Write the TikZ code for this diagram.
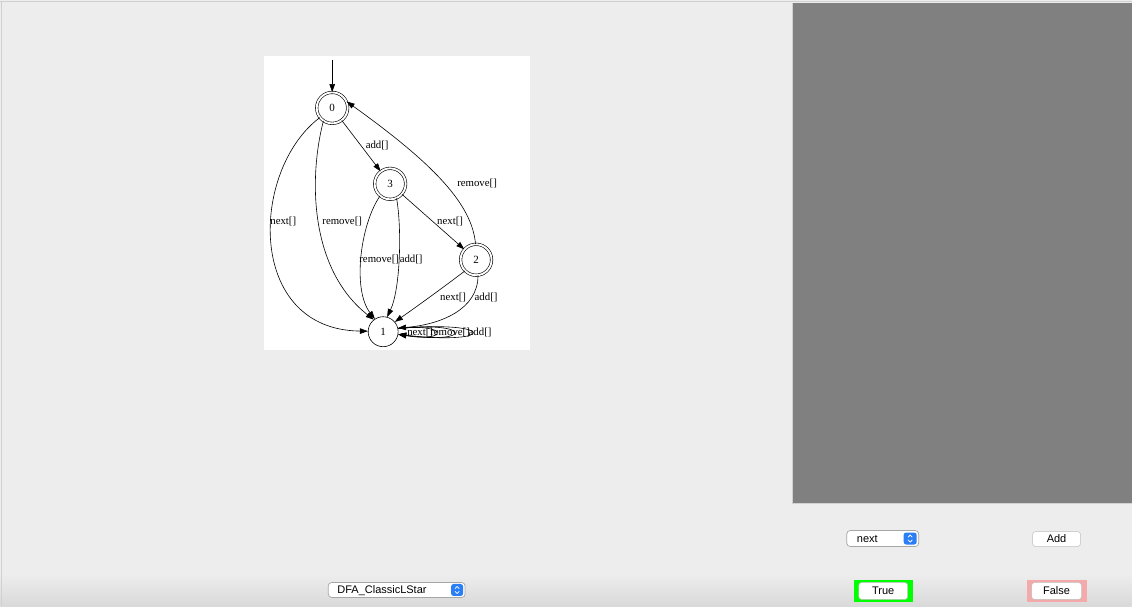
\documentclass[tikz,border=0pt]{standalone}
\usepackage{fontspec}
\setmainfont{Liberation Serif}
\newfontfamily\uifont{Liberation Sans}
\usetikzlibrary{arrows.meta}
\definecolor{winbg}{RGB}{237,237,237}
\definecolor{panelgray}{RGB}{128,128,128}
\definecolor{edgeline}{RGB}{208,208,208}
\definecolor{stepblue}{RGB}{43,127,246}
\definecolor{okgreen}{RGB}{0,255,0}
\definecolor{badpink}{RGB}{244,170,170}
\definecolor{btnborder}{RGB}{190,190,190}
\tikzset{
  acc/.style={circle, draw, double, double distance=1.9pt, line width=0.6pt,
    minimum size=31pt, inner sep=0pt, font=\fontsize{11}{11}\selectfont},
  plain/.style={circle, draw, line width=0.6pt, minimum size=30pt, inner sep=0pt,
    font=\fontsize{11}{11}\selectfont},
  trans/.style={line width=0.6pt, -{Triangle[length=8pt,width=5.5pt]}},
  lbl/.style={font=\fontsize{10.8}{11}\selectfont, inner sep=0pt},
  uitext/.style={font=\uifont\fontsize{11}{11}\selectfont, inner sep=0pt},
  btn/.style={fill=white, draw=btnborder, line width=0.5pt, rounded corners=3pt},
  popup/.style={fill=white, draw=gray!70, line width=0.7pt, rounded corners=3.5pt},
}
\begin{document}
\begin{tikzpicture}[x=1pt,y=-1pt]
% window background and frame lines
\fill[winbg] (0,0) rectangle (1132,607);
\shade[top color=winbg, bottom color=black!15] (0,575) rectangle (1132,607);
\draw[edgeline, line width=1pt] (0,2) -- (1132,2);
\draw[edgeline, line width=0.8pt] (1,2) -- (1,607);
% right-hand canvas
\fill[panelgray] (792,3) rectangle (1132,504);
\draw[edgeline, line width=0.6pt] (792,3) -- (792,504) -- (1132,504);

% automaton image
\fill[white] (264,56) rectangle (530,350);
\node[acc] (n0) at (332,108) {0};
\node[acc] (n3) at (390,184) {3};
\node[acc] (n2) at (476,260) {2};
\node[plain] (n1) at (383,332) {1};
\coordinate (init) at (332,60);

\draw[trans] (init) -- (n0);
\draw[trans] (n0.218) .. controls (250,170) and (245,330) .. (n1.178);
\draw[trans] (n0.236) .. controls (308,180) and (310,270) .. (n1.128);
\draw[trans] (n0) -- (n3);
\draw[trans] (n2.92) .. controls (472,205) and (435,165) .. (n0.24);
\draw[trans] (n3) -- (n2);
\draw[trans] (n3.230) .. controls (360,225) and (352,290) .. (n1.123);
\draw[trans] (n3.-66) .. controls (402,230) and (400,290) .. (n1.75);
\draw[trans] (n2.225) .. controls (440,290) and (415,308) .. (n1.40);
\draw[trans] (n2.-83) .. controls (478,310) and (440,325) .. (n1.14);
% self loops on state 1
\draw[trans] (n1.12) .. controls (449,323) and (449,343) .. (n1.-10);
\draw[trans] (n1.12) .. controls (473,321) and (473,345) .. (n1.-10);
\draw[trans] (n1.12) .. controls (497,320) and (497,346) .. (n1.-10);

\node[lbl] (l01a) at (283,222) {next[]};
\node[lbl] (l01b) at (342,222) {remove[]};
\node[lbl] (l03) at (377,145.5) {add[]};
\node[lbl] (l20) at (477,184) {remove[]};
\node[lbl] (l32) at (450,222) {next[]};
\node[lbl] (l31a) at (379,259.5) {remove[]};
\node[lbl] (l31b) at (411,259.5) {add[]};
\node[lbl] (l21a) at (453,297.5) {next[]};
\node[lbl] (l21b) at (486,297.5) {add[]};
\node[lbl] (l11a) at (420,333) {next[]};
\node[lbl] (l11b) at (450,333) {remove[]};
\node[lbl] (l11c) at (480,333) {add[]};

% symbol popup
\draw[popup] (847,531) rectangle (919,547);
\fill[stepblue, rounded corners=2.5pt] (904,533) rectangle (917,545);
\draw[white, line width=0.8pt, line cap=round, line join=round]
  (908.5,537.5) -- (910.5,535.5) -- (912.5,537.5)
  (908.5,540.5) -- (910.5,542.5) -- (912.5,540.5);
\node[uitext, anchor=west] (symtxt) at (857,539.5) {next};
% add button
\draw[btn] (1033,532) rectangle (1081,547);
\node[uitext] (addtxt) at (1057,539.5) {Add};
% learner popup
\draw[popup] (328,583) rectangle (465,598);
\fill[stepblue, rounded corners=2.5pt] (451,584.5) rectangle (463,596.5);
\draw[white, line width=0.8pt, line cap=round, line join=round]
  (455,589) -- (457,587) -- (459,589)
  (455,592) -- (457,594) -- (459,592);
\node[uitext, anchor=west] (algtxt) at (337,591) {DFA\_ClassicLStar};
% answer buttons
\fill[okgreen] (854,581) rectangle (913,603);
\draw[btn] (859,583) rectangle (908,600);
\node[uitext] (truetxt) at (883.5,591.5) {True};
\fill[badpink] (1027,581) rectangle (1087,603);
\draw[btn] (1032,583) rectangle (1082,600);
\node[uitext] (falsetxt) at (1057,591.5) {False};
\end{tikzpicture}
\end{document}
